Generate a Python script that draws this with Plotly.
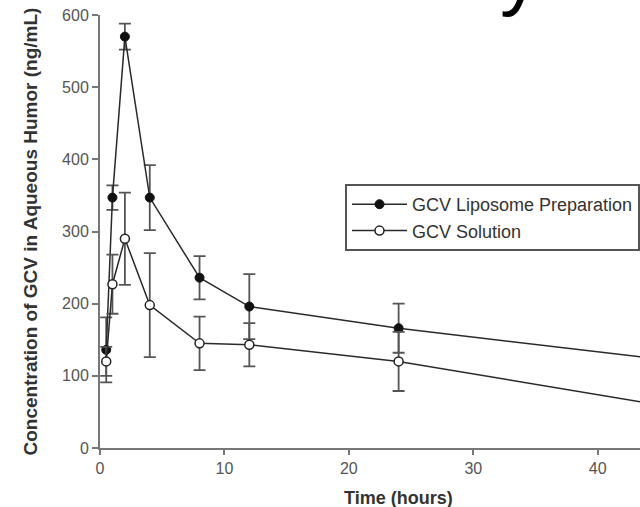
import plotly.graph_objects as go

# Data
time_h = [0.5, 1, 2, 4, 8, 12, 24, 48]
liposome = [136, 347, 570, 347, 236, 196, 166, 117]
liposome_err = [45, 17, 18, 45, 30, 45, 34, 30]
solution = [120, 227, 290, 198, 145, 143, 120, 51]
solution_err = [20, 41, 64, 72, 37, 30, 41, 25]

x_ticks = [0, 10, 20, 30, 40]
y_ticks = [0, 100, 200, 300, 400, 500, 600]

FONT = "Liberation Sans, Arial, Helvetica, sans-serif"

fig = go.Figure()

fig.add_trace(go.Scatter(
    x=time_h, y=liposome, name="GCV Liposome Preparation",
    mode="lines+markers",
    line=dict(color="#2a2a2a", width=1.5),
    marker=dict(symbol="circle", size=9, color="#111111",
                line=dict(color="#111111", width=1)),
    error_y=dict(type="data", array=liposome_err, visible=True,
                 color="#555555", thickness=1.8, width=6),
))

fig.add_trace(go.Scatter(
    x=time_h, y=solution, name="GCV Solution",
    mode="lines+markers",
    line=dict(color="#2a2a2a", width=1.5),
    marker=dict(symbol="circle", size=9, color="white",
                line=dict(color="#222222", width=1.5)),
    error_y=dict(type="data", array=solution_err, visible=True,
                 color="#555555", thickness=1.8, width=6),
))

fig.update_layout(
    width=640, height=507,
    margin=dict(l=100, r=0, t=15, b=59),
    paper_bgcolor="white", plot_bgcolor="white",
    font=dict(family=FONT, color="#444444", size=16),
    showlegend=True,
    legend=dict(
        x=0.4537, y=0.6097, xanchor="left", yanchor="top",
        bgcolor="white", bordercolor="#555555", borderwidth=2,
        font=dict(family=FONT, size=18, color="#333333"),
        itemwidth=55, tracegroupgap=0,
    ),
    xaxis=dict(
        range=[0, 43.4], tickvals=x_ticks, ticktext=[str(v) for v in x_ticks],
        showgrid=False, zeroline=False,
        showline=True, linecolor="#777777", linewidth=2,
        ticks="outside", ticklen=5, tickcolor="#777777", tickwidth=1.5,
        tickfont=dict(family=FONT, size=16, color="#555555"),
    ),
    yaxis=dict(
        range=[0, 600], tickvals=y_ticks, ticktext=[str(v) for v in y_ticks],
        showgrid=False, zeroline=False,
        showline=True, linecolor="#777777", linewidth=2,
        ticks="outside", ticklen=6, tickcolor="#777777", tickwidth=1.5,
        tickfont=dict(family=FONT, size=16, color="#555555"),
    ),
    annotations=[
        dict(text="<b>Time (hours)</b>", xref="paper", yref="paper",
             x=0.552, y=-0.1155, xanchor="center", yanchor="middle",
             showarrow=False, font=dict(family=FONT, size=18, color="#333333")),
        dict(text="<b>Concentration of GCV in Aqueous Humor (ng/mL)</b>",
             xref="paper", yref="paper", x=-0.1296, y=0.5,
             xanchor="center", yanchor="middle", textangle=-90,
             showarrow=False, font=dict(family=FONT, size=19, color="#333333")),
        dict(text="y", xref="paper", yref="paper",
             x=(520 - 100) / 540, y=(448 - 19) / 433,
             xanchor="center", yanchor="bottom",
             showarrow=False, font=dict(family=FONT, size=80, color="black")),
    ],
)

fig.write_html("out.html",
               config={"displayModeBar": False},
               post_script="document.body.style.margin='0';document.body.style.padding='0';")
